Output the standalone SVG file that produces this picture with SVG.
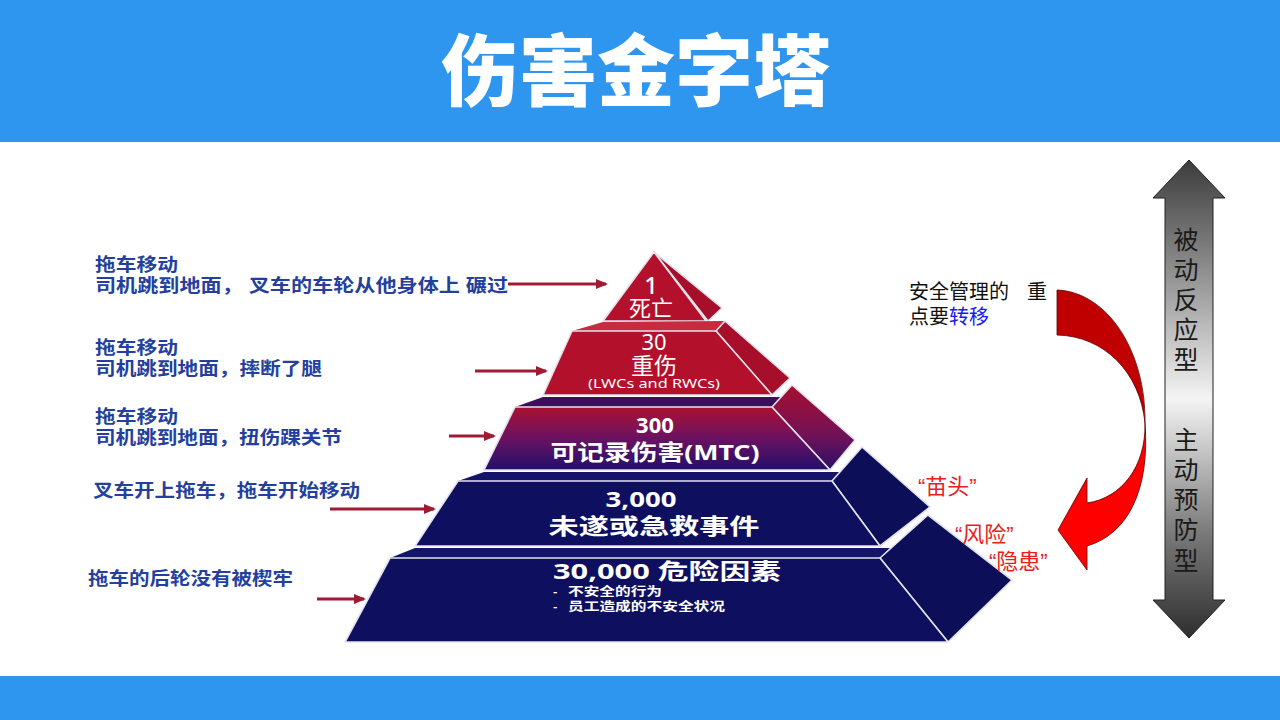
<svg xmlns="http://www.w3.org/2000/svg" width="1280" height="720" viewBox="0 0 1280 720">
<defs>
<style>
.lbl{font-family:"Liberation Sans","Noto Sans CJK SC",sans-serif;font-weight:700;font-size:18px;fill:#243F9E}
.pt{font-family:"Noto Sans","Noto Sans CJK SC",sans-serif;fill:#ffffff;text-anchor:middle}
.b{font-weight:700}
.q{font-family:"Liberation Sans","Noto Sans CJK SC",sans-serif;font-size:22px;fill:#E8201E}
.vt{font-family:"Noto Sans CJK SC",sans-serif;font-size:25px;fill:#1a1a1a;text-anchor:middle}
.note{font-family:"Liberation Sans","Noto Sans CJK SC",sans-serif;font-size:20px;fill:#111111}
.edge{stroke:#E2E2EC;stroke-width:1.6;stroke-linejoin:round}
.conn{stroke:#A01A34;stroke-width:3;fill:none}
.red{fill:#B3102C}
.redside{fill:#A60E2A}
.navy{fill:#0E0F5E}
.navyside{fill:#0C0E58}
.sub{font-family:"Noto Sans CJK SC",sans-serif;font-weight:700;font-size:12px;fill:#FFFFFF}
</style>
<marker id="ah" markerWidth="12" markerHeight="10" refX="10" refY="5" orient="auto" markerUnits="userSpaceOnUse"><path d="M0,0 L12,5 L0,10 Z" fill="#A01A34"/></marker>
<linearGradient id="t3" gradientUnits="userSpaceOnUse" x1="0" y1="405" x2="0" y2="472"><stop offset="0" stop-color="#B0102E"/><stop offset="0.5" stop-color="#6A1262"/><stop offset="1" stop-color="#1E0F6A"/></linearGradient>
<linearGradient id="t3s" gradientUnits="userSpaceOnUse" x1="0" y1="385" x2="0" y2="470"><stop offset="0" stop-color="#A80F2E"/><stop offset="0.6" stop-color="#701258"/><stop offset="1" stop-color="#2A0F66"/></linearGradient>
<linearGradient id="varr" gradientUnits="userSpaceOnUse" x1="0" y1="160" x2="0" y2="638"><stop offset="0" stop-color="#3C3C3C"/><stop offset="0.22" stop-color="#8A8A8A"/><stop offset="0.5" stop-color="#F4F4F4"/><stop offset="0.78" stop-color="#7A7A7A"/><stop offset="1" stop-color="#2E2E2E"/></linearGradient>
<linearGradient id="arr2" x1="0" y1="0" x2="1" y2="0"><stop offset="0" stop-color="#2A1A5A"/><stop offset="1" stop-color="#A01A34"/></linearGradient>
</defs>

<rect x="0" y="0" width="1280" height="720" fill="#FFFFFF"/>

<g id="header">
<rect x="0" y="0" width="1280" height="142" fill="#2F96EF"/>
<text x="636" y="100" text-anchor="middle" font-family="Noto Sans CJK SC, sans-serif" font-weight="900" font-size="78" fill="#FFFFFF">伤害金字塔</text>
</g>
<rect id="footer" x="0" y="676" width="1280" height="44" fill="#2F96EF"/>

<g id="tier1">
<polygon class="redside edge" points="654,252 722,308 708,321"/>
<polygon class="red edge" points="654,252 706,321 603,321"/>
<text class="pt" x="651" y="294" font-size="24" font-weight="500">1</text>
<text class="pt" x="651" y="316" font-size="22">死亡</text>
</g>

<g id="tier2">
<polygon fill="#C82A40" points="603,322 725,321 716,331 572,331"/>
<polygon class="redside edge" points="716,331 725,321 790,378 772,395"/>
<polygon class="red edge" points="572,331 716,331 772,395 543,395"/>
<text class="pt" x="654" y="350" font-size="22">30</text>
<text class="pt" x="654" y="374" font-size="23">重伤</text>
<text class="pt" x="654" y="388" font-size="12" textLength="132" lengthAdjust="spacingAndGlyphs">(LWCs and RWCs)</text>
</g>

<g id="tier3">
<polygon fill="#3A0F5C" points="543,397 782,397 772,407 515,407"/>
<polygon fill="url(#t3s)" class="edge" points="772,407 792,385 855,440 830,470"/>
<polygon fill="url(#t3)" class="edge" points="515,407 772,407 830,470 484,470"/>
<text class="pt b" x="655" y="433" font-size="22">300</text>
<text class="pt b" x="655" y="460" font-size="22" textLength="209" lengthAdjust="spacingAndGlyphs">可记录伤害(MTC)</text>
</g>

<g id="tier4">
<polygon fill="#13146A" points="484,472 842,472 832,481 458,481"/>
<polygon class="navyside edge" points="832,481 862,447 930,507 880,546"/>
<polygon class="navy edge" points="458,481 832,481 880,546 415,546"/>
<text class="pt b" x="641" y="507" font-size="21" textLength="71" lengthAdjust="spacingAndGlyphs">3,000</text>
<text class="pt b" x="654" y="534" font-size="22" textLength="211" lengthAdjust="spacingAndGlyphs">未遂或急救事件</text>
</g>

<g id="tier5">
<polygon fill="#13146A" points="415,548 890,548 880,558 390,558"/>
<polygon class="navyside edge" points="880,558 928,515 1012,580 948,642"/>
<polygon class="navy edge" points="390,558 880,558 948,642 345,642"/>
<text class="pt b" x="667" y="579" font-size="22" textLength="228" lengthAdjust="spacingAndGlyphs">30,000 危险因素</text>
<text class="sub" x="553" y="596">-</text>
<text class="sub" x="568" y="596" textLength="94" lengthAdjust="spacingAndGlyphs">不安全的行为</text>
<text class="sub" x="553" y="611">-</text>
<text class="sub" x="568" y="611" textLength="157" lengthAdjust="spacingAndGlyphs">员工造成的不安全状况</text>
</g>

<g id="label1">
<text class="lbl" x="95" y="271" textLength="83" lengthAdjust="spacingAndGlyphs">拖车移动</text>
<text class="lbl" x="95" y="292" textLength="413" lengthAdjust="spacingAndGlyphs">司机跳到地面， 叉车的车轮从他身体上  碾过</text>
</g>
<g id="label2">
<text class="lbl" x="95" y="354" textLength="83" lengthAdjust="spacingAndGlyphs">拖车移动</text>
<text class="lbl" x="95" y="375" textLength="227" lengthAdjust="spacingAndGlyphs">司机跳到地面，摔断了腿</text>
</g>
<g id="label3">
<text class="lbl" x="95" y="423" textLength="83" lengthAdjust="spacingAndGlyphs">拖车移动</text>
<text class="lbl" x="95" y="444" textLength="247" lengthAdjust="spacingAndGlyphs">司机跳到地面，扭伤踝关节</text>
</g>
<g id="label4">
<text class="lbl" x="93" y="497" textLength="267" lengthAdjust="spacingAndGlyphs">叉车开上拖车，拖车开始移动</text>
</g>
<g id="label5">
<text class="lbl" x="88" y="585" textLength="205" lengthAdjust="spacingAndGlyphs">拖车的后轮没有被楔牢</text>
</g>

<g id="connectors">
<line class="conn" x1="508" y1="284" x2="606" y2="284" marker-end="url(#ah)"/>
<line class="conn" x1="475" y1="371" x2="546" y2="371" stroke="url(#arr2)" stroke-width="4" marker-end="url(#ah)"/>
<line class="conn" x1="449" y1="436" x2="494" y2="436" marker-end="url(#ah)"/>
<line class="conn" x1="330" y1="509" x2="434" y2="509" marker-end="url(#ah)"/>
<line class="conn" x1="317" y1="599" x2="364" y2="599" marker-end="url(#ah)"/>
</g>

<g id="tags">
<text class="q" x="918" y="494">“苗头”</text>
<text class="q" x="955" y="542">“风险”</text>
<text class="q" x="989" y="569">“隐患”</text>
</g>

<g id="shift-note">
<text class="note" x="909" y="299">安全管理的<tspan x="1027">重</tspan></text>
<text class="note" x="909" y="324">点要<tspan fill="#1A1AF0">转移</tspan></text>
</g>

<g id="curved-arrow">
<path d="M1057,290 C1108,292 1146,352 1145,423 C1140,372 1104,336 1057,335 Z" fill="#C00000" stroke="#5a0000" stroke-width="0.8"/>
<path d="M1145,423 C1146,466 1122,498 1087,503 L1087,478 L1058,530 L1087,570 L1087,546 C1128,534 1150,490 1145,423 Z" fill="#FF0000" stroke="#5a0000" stroke-width="0.8"/>
</g>

<g id="scale-arrow">
<polygon points="1189,160 1225,198 1213,198 1213,600 1225,600 1189,638 1153,600 1165,600 1165,198 1153,198" fill="url(#varr)" stroke="#222222" stroke-width="1"/>
<text class="vt" x="1186" y="249">被</text>
<text class="vt" x="1186" y="279">动</text>
<text class="vt" x="1186" y="309">反</text>
<text class="vt" x="1186" y="339">应</text>
<text class="vt" x="1186" y="369">型</text>
<text class="vt" x="1186" y="449">主</text>
<text class="vt" x="1186" y="479">动</text>
<text class="vt" x="1186" y="509">预</text>
<text class="vt" x="1186" y="539">防</text>
<text class="vt" x="1186" y="570">型</text>
</g>
</svg>
